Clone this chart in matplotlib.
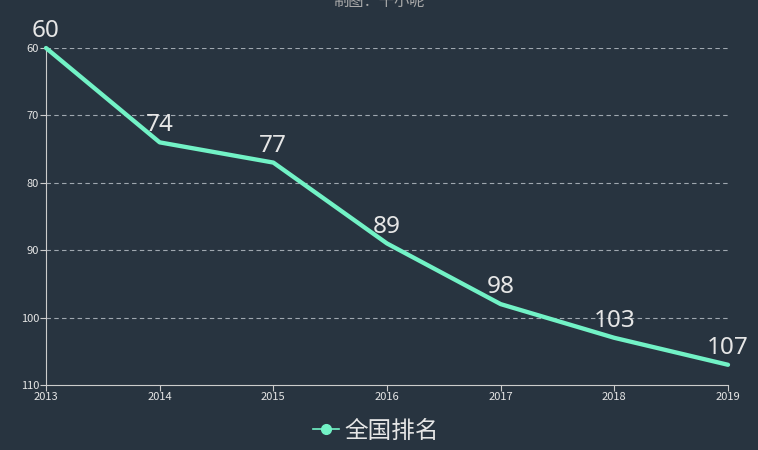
import matplotlib
matplotlib.use("Agg")
import matplotlib.pyplot as plt
from matplotlib.lines import Line2D

plt.rcParams['font.family'] = ['Noto Sans CJK SC', 'DejaVu Sans']

years = ['2013', '2014', '2015', '2016', '2017', '2018', '2019']
ranks = [60, 74, 77, 89, 98, 103, 107]
yticks = [60, 70, 80, 90, 100, 110]
series_name = '全国排名'
credit = '制图：千小呢'

bg = '#283440'
line_color = '#72f2c6'
text_color = '#e6e6e6'

fig = plt.figure(figsize=(7.58, 4.5), dpi=100)
fig.patch.set_facecolor(bg)
W, H = 758, 450
ax = fig.add_axes([46 / W, 1 - 385 / H, (728 - 46) / W, (385 - 48) / H])
ax.set_facecolor(bg)

x = list(range(len(years)))
ax.plot(x, ranks, color=line_color, lw=3.1, solid_capstyle='round', solid_joinstyle='round', zorder=3, clip_on=False)
for xi, v in zip(x, ranks):
    ax.annotate(str(v), (xi, v), xytext=(0, 3.5), textcoords='offset points',
                ha='center', va='bottom', fontsize=17.5, color=text_color, zorder=4,
                family=['Noto Sans', 'DejaVu Sans'])

ax.set_xlim(0, len(years) - 1)
ax.set_ylim(110, 60)
ax.set_xticks(x)
ax.set_xticklabels(years)
ax.set_yticks(yticks)
ax.set_yticklabels([str(t) for t in yticks])
ax.tick_params(axis='both', colors='#cccccc', labelcolor=text_color, labelsize=8, length=4, width=0.8, pad=1)
for t in yticks[:-1]:
    ax.axhline(t, color='#a0a8b0', lw=0.8, ls=(0, (4, 3)), zorder=1)
for s in ['top', 'right']:
    ax.spines[s].set_visible(False)
for s in ['left', 'bottom']:
    ax.spines[s].set_color('#cccccc')
    ax.spines[s].set_linewidth(0.8)

fig.text(0.5, 1 - 1 / H, credit, ha='center', va='center', fontsize=11, color='#aaaaaa')

handle = Line2D([], [], color=line_color, lw=1.2, marker='o', markersize=7, markerfacecolor=line_color, markeredgecolor=line_color)
leg = fig.legend([handle], [series_name], loc='center', bbox_to_anchor=(0.496, 1 - 431 / H), frameon=False,
                 fontsize=17, labelcolor=text_color, handlelength=1.1, handletextpad=0.25)

fig.savefig('out.png', dpi=100, facecolor=bg)
